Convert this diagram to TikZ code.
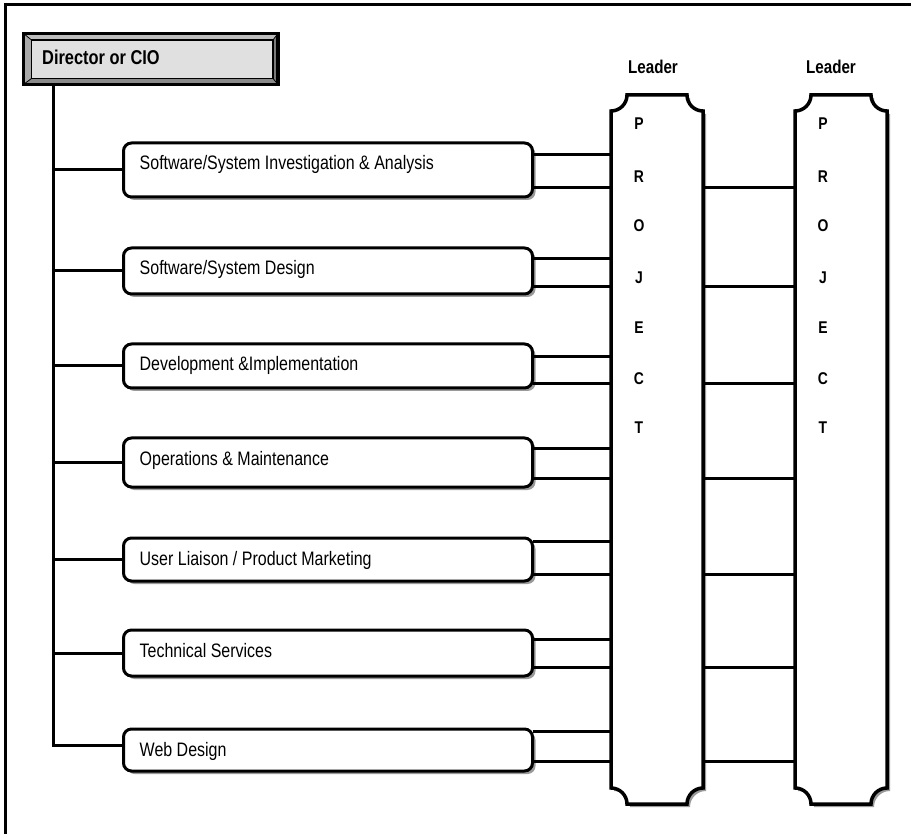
\documentclass[tikz,border=0pt]{standalone}
\usepackage{fontspec}
\setmainfont{Liberation Sans}[FakeStretch=0.82]
\usetikzlibrary{calc,shadows}
\definecolor{faceg}{HTML}{E0E0E0}
\definecolor{bevtop}{HTML}{BDBDBD}
\definecolor{bevleft}{HTML}{A8A8A8}
\definecolor{bevright}{HTML}{7A7A7A}
\definecolor{bevbot}{HTML}{8A8A8A}
\definecolor{shadowg}{HTML}{9A9A9A}
\newcommand\projshape[4]{({#1+16},#2) -- ({#3-16},#2) .. controls ({#3-16},{#2+8.8}) and ({#3-8.8},{#2+16}) .. (#3,{#2+16}) -- (#3,{#4-16}) .. controls ({#3-8.8},{#4-16}) and ({#3-16},{#4-8.8}) .. ({#3-16},#4) -- ({#1+16},#4) .. controls ({#1+16},{#4-8.8}) and ({#1+8.8},{#4-16}) .. (#1,{#4-16}) -- (#1,{#2+16}) .. controls ({#1+8.8},{#2+16}) and ({#1+16},{#2+8.8}) .. cycle}
\begin{document}
\begin{tikzpicture}[x=1pt,y=-1pt,
  conn/.style={line width=3pt},
  box/.style={draw, line width=3pt, rounded corners=8pt, fill=white,
    minimum width=409pt, inner sep=0pt, outer sep=0pt, anchor=north west,
    drop shadow={shadow xshift=3pt, shadow yshift=-3pt, fill=shadowg, opacity=1}},
  lbl/.style={anchor=base west, inner sep=0pt, font=\fontsize{19.5}{22}\selectfont},
  lead/.style={anchor=base, inner sep=0pt, font=\fontsize{18.5}{22}\selectfont\bfseries},
  letr/.style={anchor=base, inner sep=0pt, font=\fontsize{17}{20}\selectfont\bfseries},
  barnode/.style={inner sep=0pt, outer sep=0pt, minimum width=92pt, minimum height=709pt, anchor=north west},
  barline/.style={line width=3.5pt, fill=white}]
\useasboundingbox (0,0) rectangle (911,834);
% outer frame
\draw[line width=3pt] (5,834) -- (5,5) -- (911,5);

% director box
\node[inner sep=0pt, outer sep=0pt, minimum width=254.5pt, minimum height=51pt, anchor=north west] (dir) at (23.5,33.5) {};
\fill[bevtop] (23.5,33.5) -- (278,33.5) -- (273,40) -- (31.5,40) -- cycle;
\fill[bevright] (278,33.5) -- (278,84.5) -- (273,78.5) -- (273,40) -- cycle;
\fill[bevbot] (23.5,84.5) -- (278,84.5) -- (273,78.5) -- (31.5,78.5) -- cycle;
\fill[bevleft] (23.5,33.5) -- (23.5,84.5) -- (31.5,78.5) -- (31.5,40) -- cycle;
\draw[line width=0.8pt] (23.5,33.5) -- (31.5,40) (278,33.5) -- (273,40) (278,84.5) -- (273,78.5) (23.5,84.5) -- (31.5,78.5);
\draw[line width=1.6pt, fill=faceg] (31.5,40) rectangle (273,78.5);
\draw[line width=3.2pt] (dir.north west) rectangle (dir.south east);
\node[anchor=base west, inner sep=0pt, font=\fontsize{20}{22}\selectfont\bfseries] (dirt) at (42,65) {Director or CIO};

% boxes
\node[box, minimum height=54pt] (b1) at (123.5,143) {};
\node[box, minimum height=46pt] (b2) at (123.5,248) {};
\node[box, minimum height=44pt] (b3) at (123.5,344) {};
\node[box, minimum height=49pt] (b4) at (123.5,438) {};
\node[box, minimum height=43pt] (b5) at (123.5,538) {};
\node[box, minimum height=46pt] (b6) at (123.5,630) {};
\node[box, minimum height=42pt] (b7) at (123.5,729) {};
\node[lbl] (t1) at ([shift={(16,27)}]b1.north west) {Software/System Investigation \& Analysis};
\node[lbl] (t2) at ([shift={(16,27)}]b2.north west) {Software/System Design};
\node[lbl] (t3) at ([shift={(16,27)}]b3.north west) {Development \&Implementation};
\node[lbl] (t4) at ([shift={(16,27)}]b4.north west) {Operations \& Maintenance};
\node[lbl] (t5) at ([shift={(16,27)}]b5.north west) {User Liaison / Product Marketing};
\node[lbl] (t6) at ([shift={(16,27)}]b6.north west) {Technical Services};
\node[lbl] (t7) at ([shift={(16,27)}]b7.north west) {Web Design};

% project bars
\node[barnode] (p1) at (611,95) {};
\node[barnode] (p2) at (795,95) {};
\fill[shadowg, shift={(3,3)}] \projshape{611}{95}{703}{804};
\draw[barline] \projshape{611}{95}{703}{804};
\fill[shadowg, shift={(3,3)}] \projshape{795}{95}{887}{804};
\draw[barline] \projshape{795}{95}{887}{804};
\node[lead] (l1) at (653,73.5) {Leader};
\node[lead] (l2) at (831,73.5) {Leader};
\foreach \c/\yy in {P/129.3, R/182.7, O/231.7, J/284, E/334, C/384.5, T/434} {
  \node[letr] (pa\c) at (639,\yy) {\c};
  \node[letr] (pb\c) at (823,\yy) {\c};
}

% trunk and branches
\coordinate (tr) at ([xshift=29.5pt]dir.south west);
\draw[conn] (tr) |- ([yshift=5pt]b7.west);
\foreach \b in {b1,b2,b3,b4,b5,b6} {
  \draw[conn] (\b.west) -- (\b.west -| tr);
}

% connectors to project bars
\foreach \b/\ya/\yb in {b1/155/188, b2/259/287, b3/357/384, b4/448/478, b5/541/574, b6/639/667, b7/731/761} {
  \draw[conn] (\b.east |- 0,\ya) -- (p1.west |- 0,\ya);
  \draw[conn] (\b.east |- 0,\yb) -- (p1.west |- 0,\yb);
  \draw[conn] (p1.east |- 0,\yb) -- (p2.west |- 0,\yb);
}
\end{tikzpicture}
\end{document}
